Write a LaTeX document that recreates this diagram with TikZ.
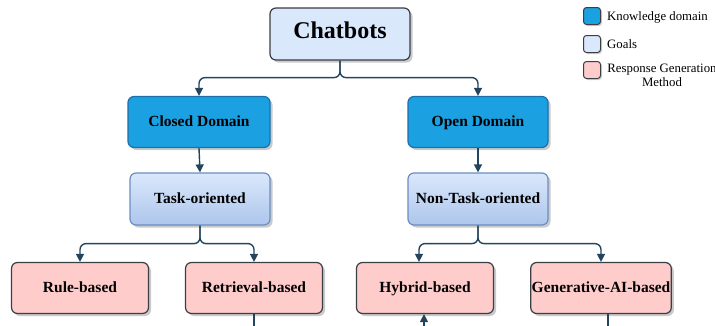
\documentclass[tikz,border=0pt]{standalone}
\usepackage{fontspec}
\setmainfont{Liberation Serif}
\usetikzlibrary{arrows.meta,shadows}

\begin{document}
\begin{tikzpicture}[x=1pt,y=-1pt,
  box/.style={draw=boxline, line width=1.2pt, rounded corners=6pt,
    minimum width=140pt, minimum height=52pt, inner sep=1pt,
    text height=0.95em, text depth=0em,
    font=\fontsize{15.5}{17}\selectfont\bfseries,
    drop shadow={shadow xshift=2.5pt, shadow yshift=-2.5pt, opacity=0.35, fill=black!60}},
  kbox/.style={box, fill=domfill, draw=domline},
  goalbox/.style={box, top color=goalfill, bottom color=goaldark, draw=goalline},
  methbox/.style={box, fill=methfill, minimum width=137pt, minimum height=51pt},
  key/.style={draw=boxline, line width=1pt, rounded corners=3pt, minimum size=17pt, inner sep=0pt,
    drop shadow={shadow xshift=1.5pt, shadow yshift=-1.5pt, opacity=0.3, fill=black!60}},
  keytext/.style={font=\fontsize{12.8}{14}\selectfont, inner sep=0pt},
  conn/.style={draw=arrowcol, line width=1.4pt, rounded corners=6pt,
    -{Triangle[length=8pt,width=8pt]}},
  stub/.style={draw=arrowcol, line width=1.4pt}]
\definecolor{boxline}{HTML}{3A3F44}
\definecolor{domfill}{HTML}{1BA1E2}
\definecolor{domline}{HTML}{1F6FA8}
\definecolor{goalfill}{HTML}{DAE8FC}
\definecolor{goaldark}{HTML}{ADC6EC}
\definecolor{goalline}{HTML}{6C8EBF}
\definecolor{methfill}{HTML}{FFCCCC}
\definecolor{arrowcol}{HTML}{23445D}

\useasboundingbox (0,0) rectangle (715,325);

\node[box, fill=goalfill, font=\fontsize{24}{28}\selectfont\bfseries] (chat) at (340,34) {Chatbots};

\node[kbox, minimum width=142pt, minimum height=51pt] (closed) at (199,122) {Closed Domain};
\node[kbox, minimum height=51pt] (open) at (478,122) {Open Domain};

\node[goalbox] (task) at (200,199) {Task-oriented};
\node[goalbox] (nontask) at (478,199) {Non-Task-oriented};

\node[methbox] (rule) at (80,288) {Rule-based};
\node[methbox] (retr) at (254,288) {Retrieval-based};
\node[methbox] (hyb) at (425,288) {Hybrid-based};
\node[methbox] (gen) at (601,288) {Generative-AI-based};

\path[conn] (chat.south) -- ++(0,17) -| (closed.north);
\path[conn] (chat.south) -- ++(0,17) -| (open.north);
\path[conn] (closed.south) -- (task.north);
\path[conn] (open.south) -- (nontask.north);
\path[conn] (task.south) -- ++(0,18) -| (rule.north);
\path[conn] (task.south) -- ++(0,18) -| (retr.north);
\path[conn] (nontask.south) -- ++(0,18) -| ([xshift=-6pt]hyb.north);
\path[conn] (nontask.south) -- ++(0,18) -| (gen.north);

\coordinate (retrout) at (254,340);
\coordinate (hybin) at (424,340);
\coordinate (genout) at (608,340);
\path[stub] (retr.south) -- (retrout);
\path[conn] (hybin) -- (hybin |- hyb.south);
\path[stub] (genout |- gen.south) -- (genout);

\node[key, fill=domfill] (kdom) at (592,16) {};
\node[key, fill=goalfill] (kgoal) at (592,44) {};
\node[key, fill=methfill] (kmeth) at (592,70) {};
\node[keytext, anchor=west] (tdom) at (607,17) {Knowledge domain};
\node[keytext, anchor=west] (tgoal) at (607,44) {Goals};
\node[keytext, align=center] (tmeth) at (662,75) {Response Generation\\Method};
\end{tikzpicture}
\end{document}
